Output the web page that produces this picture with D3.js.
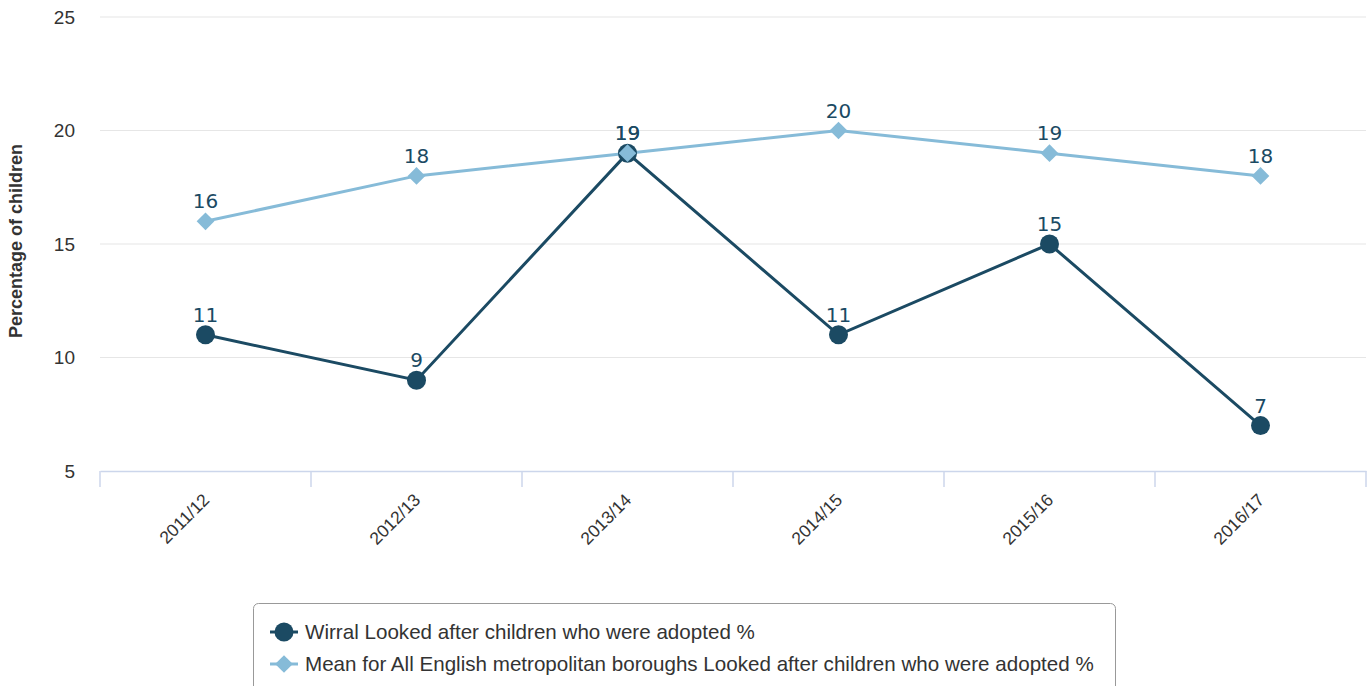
<!DOCTYPE html>
<html><head><meta charset="utf-8">
<script src="https://cdn.jsdelivr.net/npm/d3@7"></script>
<style>body{margin:0;background:#fff;}svg{display:block;}</style>
</head><body>
<svg id="c" width="1372" height="686"></svg>
<script>
const categories = ["2011/12","2012/13","2013/14","2014/15","2015/16","2016/17"];
const wirral = [11, 9, 19, 11, 15, 7];
const meanMet = [16, 18, 19, 20, 19, 18];
const yTicks = [5, 10, 15, 20, 25];
const seriesNames = ["Wirral Looked after children who were adopted %","Mean for All English metropolitan boroughs Looked after children who were adopted %"];
const yTitle = "Percentage of children";

(function(){
const svg = d3.select("#c");
const pLeft = 100, pRight = 1366, pTop = 17, pBottom = 471;
const x = d3.scaleBand().domain(categories).range([pLeft, pRight]);
const y = d3.scaleLinear().domain([5, 25]).range([pBottom, pTop]);
const dark = "#1b4a63", light = "#86bbd8";
const sans = "Liberation Sans, Arial, sans-serif";

svg.append("g").selectAll("line").data(yTicks.filter(t=>t>5)).join("line")
  .attr("x1", pLeft).attr("x2", pRight).attr("y1", d=>y(d)).attr("y2", d=>y(d))
  .attr("stroke", "#e6e6e6").attr("stroke-width", 1.2);

const ya = svg.append("g").attr("transform", `translate(${pLeft},0)`)
  .call(d3.axisLeft(y).tickValues(yTicks).tickSize(0).tickPadding(25));
ya.select(".domain").remove();
ya.selectAll("text").attr("font-family",sans).attr("font-size",19).attr("fill","#333").attr("dy","0.34em");

svg.append("text").attr("transform", `translate(22,241) rotate(-90)`)
  .attr("text-anchor","middle").attr("font-family",sans)
  .attr("font-size",18).attr("font-weight","bold").attr("fill","#333").text(yTitle);

const xa = svg.append("g").attr("transform", `translate(0,${pBottom})`)
  .call(d3.axisBottom(x).tickSize(0).tickPadding(0));
xa.select(".domain").attr("stroke","#ccd6eb").attr("stroke-width",1.5);
xa.selectAll(".tick text").attr("font-family",sans).attr("font-size",17.5).attr("fill","#333")
  .attr("text-anchor","end").attr("dy",0).attr("y",0)
  .attr("transform","translate(5,30) rotate(-45)");
const bounds = categories.map(c=>x(c)).concat([pRight]);
svg.append("g").selectAll("line").data(bounds).join("line")
  .attr("x1", d=>d).attr("x2", d=>d).attr("y1", pBottom).attr("y2", pBottom+16)
  .attr("stroke","#ccd6eb").attr("stroke-width",1.5);

const cx = c => x(c) + x.bandwidth()/2;
const line = d3.line().x((d,i)=>cx(categories[i])).y(d=>y(d));

svg.append("path").datum(meanMet).attr("d", line).attr("fill","none").attr("stroke",light).attr("stroke-width",3);
svg.append("path").datum(wirral).attr("d", line).attr("fill","none").attr("stroke",dark).attr("stroke-width",3);
svg.append("g").selectAll("circle").data(wirral).join("circle")
  .attr("cx",(d,i)=>cx(categories[i])).attr("cy",d=>y(d)).attr("r",9.5).attr("fill",dark);
svg.append("g").selectAll("path").data(meanMet).join("path")
  .attr("d", d3.symbol().type(d3.symbolDiamond2).size(200))
  .attr("transform",(d,i)=>`translate(${cx(categories[i])},${y(d)})`)
  .attr("fill",light);

function labels(data){
  svg.append("g").selectAll("text").data(data).join("text")
    .attr("x",(d,i)=>cx(categories[i])).attr("y",d=>y(d)-13)
    .attr("text-anchor","middle").attr("font-family","DejaVu Sans, sans-serif").attr("font-size",20)
    .attr("fill",dark).text(d=>d);
}
labels(meanMet);
labels(wirral);

svg.append("rect").attr("x",253.5).attr("y",603.5).attr("width",862).attr("height",100).attr("rx",5)
  .attr("fill","#fff").attr("stroke","#999").attr("stroke-width",1);
const lg = svg.append("g");
const items = [{y:632, c:dark, sym:"circle"},{y:664, c:light, sym:"diamond"}];
items.forEach((it,i)=>{
  lg.append("line").attr("x1",270).attr("x2",298).attr("y1",it.y).attr("y2",it.y).attr("stroke",it.c).attr("stroke-width",3);
  if(it.sym==="circle") lg.append("circle").attr("cx",284).attr("cy",it.y).attr("r",9.5).attr("fill",it.c);
  else lg.append("path").attr("d",d3.symbol().type(d3.symbolDiamond2).size(200)).attr("transform",`translate(284,${it.y})`).attr("fill",it.c);
  lg.append("text").attr("x",305).attr("y",it.y+7).attr("font-family",sans)
    .attr("font-size",20.6).attr("fill","#333").text(seriesNames[i]);
});
})();
</script>
</body></html>
